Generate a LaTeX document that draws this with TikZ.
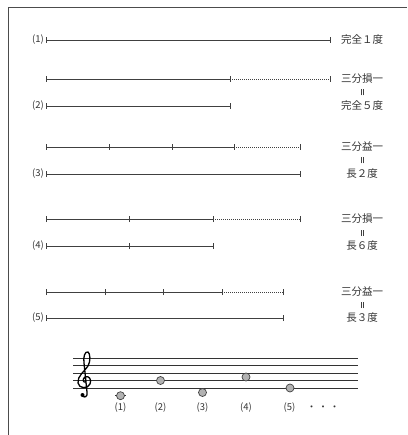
\documentclass[tikz,border=0pt]{standalone}
\usepackage{fontspec}
\newfontfamily\jp{Noto Sans CJK JP}
\begin{document}
\begin{tikzpicture}[x=1pt,y=-1pt,
  seg/.style={draw=black!75,line width=0.8pt},
  dotseg/.style={draw=black!75,line width=0.6pt,dash pattern=on 0.8pt off 1.2pt},
  tick/.style={draw=black!75,line width=0.8pt},
  lab/.style={font=\jp\fontsize{9.5}{10}\selectfont,text=black!80,inner sep=0pt,anchor=east},
  jt/.style={font=\jp\fontsize{10.5}{11}\selectfont,text=black!80,inner sep=0pt},
  eqbar/.style={draw=black!75,line width=0.55pt},
  staff/.style={draw=black!80,line width=0.6pt},
  note/.style={circle,draw=black!75,fill=black!30,line width=0.7pt,minimum size=8pt,inner sep=0pt},
  nlab/.style={font=\jp\fontsize{9.5}{10}\selectfont,text=black!80,inner sep=0pt}]
\useasboundingbox (0,0) rectangle (407,435);
% frame
\coordinate (fb) at (8,435);
\coordinate (fc) at (8,8);
\coordinate (fr) at (407,8);
\draw[draw=black!70,line width=1pt] (fb) -- (fc) -- (fr);

\newcommand{\tk}[1]{\draw[tick] ([yshift=-3pt]#1) -- ([yshift=3pt]#1);}
\newcommand{\eqm}[1]{\draw[eqbar] ([shift={(-1.2pt,-3pt)}]#1) -- ([shift={(-1.2pt,3pt)}]#1)
  ([shift={(1.2pt,-3pt)}]#1) -- ([shift={(1.2pt,3pt)}]#1);}

% row 1
\node[lab] (l1) at (44,40) {(1)};
\coordinate (a1) at (46,40); \coordinate (b1) at (330,40);
\draw[seg] (a1) -- (b1); \tk{a1}\tk{b1}
\node[jt] (t1) at (362,40) {完全１度};

% row 2
\coordinate (a2a) at (46,79); \coordinate (m2a) at (230,79); \coordinate (b2a) at (330,79);
\draw[seg] (a2a) -- (m2a); \draw[dotseg] (m2a) -- (b2a);
\tk{a2a}\tk{m2a}\tk{b2a}
\node[lab] (l2) at (44,106) {(2)};
\coordinate (a2) at (46,106); \coordinate (b2) at (230,106);
\draw[seg] (a2) -- (b2); \tk{a2}\tk{b2}
\node[jt] (t2a) at (362,79) {三分損一};
\coordinate (e2) at (362,92.5); \eqm{e2}
\node[jt] (t2) at (362,106) {完全５度};

% row 3
\coordinate (a3a) at (46,147); \coordinate (p3a) at (109,147); \coordinate (q3a) at (172,147);
\coordinate (m3a) at (234,147); \coordinate (b3a) at (300,147);
\draw[seg] (a3a) -- (m3a); \draw[dotseg] (m3a) -- (b3a);
\tk{a3a}\tk{p3a}\tk{q3a}\tk{m3a}\tk{b3a}
\node[lab] (l3) at (44,174) {(3)};
\coordinate (a3) at (46,174); \coordinate (b3) at (300,174);
\draw[seg] (a3) -- (b3); \tk{a3}\tk{b3}
\node[jt] (t3a) at (362,147) {三分益一};
\coordinate (e3) at (362,160.5); \eqm{e3}
\node[jt] (t3) at (362,174) {長２度};

% row 4
\coordinate (a4a) at (46,219); \coordinate (p4a) at (129,219);
\coordinate (m4a) at (213,219); \coordinate (b4a) at (300,219);
\draw[seg] (a4a) -- (m4a); \draw[dotseg] (m4a) -- (b4a);
\tk{a4a}\tk{p4a}\tk{m4a}\tk{b4a}
\node[lab] (l4) at (44,246) {(4)};
\coordinate (a4) at (46,246); \coordinate (p4) at (129,246); \coordinate (b4) at (213,246);
\draw[seg] (a4) -- (b4); \tk{a4}\tk{p4}\tk{b4}
\node[jt] (t4a) at (362,219) {三分損一};
\coordinate (e4) at (362,232.5); \eqm{e4}
\node[jt] (t4) at (362,246) {長６度};

% row 5
\coordinate (a5a) at (46,292); \coordinate (p5a) at (105,292); \coordinate (q5a) at (163,292);
\coordinate (m5a) at (222,292); \coordinate (b5a) at (283,292);
\draw[seg] (a5a) -- (m5a); \draw[dotseg] (m5a) -- (b5a);
\tk{a5a}\tk{p5a}\tk{q5a}\tk{m5a}\tk{b5a}
\node[lab] (l5) at (44,318) {(5)};
\coordinate (a5) at (46,318); \coordinate (b5) at (283,318);
\draw[seg] (a5) -- (b5); \tk{a5}\tk{b5}
\node[jt] (t5a) at (362,292) {三分益一};
\coordinate (e5) at (362,305); \eqm{e5}
\node[jt] (t5) at (362,318) {長３度};

% staff
\foreach \yy in {358,365.5,373,380.5,388} {\draw[staff] (73,\yy) -- (358,\yy);}
% treble clef
\draw[black,line width=1.3pt,line cap=round]
  (86,382) .. controls (83,383) and (82,379) .. (85,377)
  .. controls (89,375) and (92,380) .. (90,384)
  .. controls (88,389) and (79,389) .. (78,383)
  .. controls (77,376) and (85,371) .. (88,366)
  .. controls (91,361) and (90,353) .. (88,352)
  .. controls (85,351) and (83,357) .. (84,363)
  -- (87,392) .. controls (88,397) and (84,398) .. (83,396);
\fill[black] (82.5,395) circle (2pt);
% notes
\coordinate (lg1) at (115,395.7); \coordinate (lg2) at (126,395.7);
\draw[staff] (lg1) -- (lg2);
\node[note] (n1) at (120.5,395.7) {};
\node[note] (n2) at (160.5,380.5) {};
\node[note] (n3) at (202.5,392.5) {};
\node[note] (n4) at (246,377) {};
\node[note] (n5) at (290,388) {};
\node[nlab] (k1) at (120.5,408) {(1)};
\node[nlab] (k2) at (160.5,408) {(2)};
\node[nlab] (k3) at (202.5,408) {(3)};
\node[nlab] (k4) at (246,408) {(4)};
\node[nlab] (k5) at (289.5,408) {(5)};
\node[nlab] (dots) at (323,408) {・\hspace{2pt}・\hspace{2pt}・};
\end{tikzpicture}
\end{document}
